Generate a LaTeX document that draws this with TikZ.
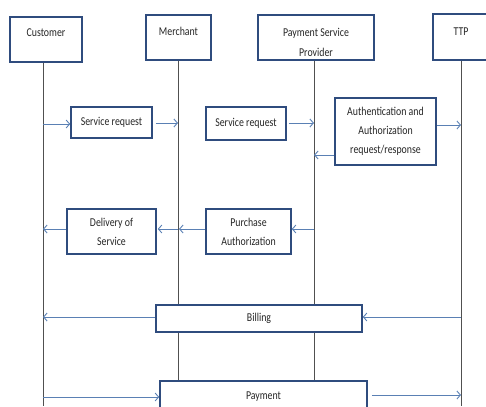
\documentclass[tikz,border=0pt]{standalone}
\usepackage{fontspec}
\setmainfont{Carlito}[FakeStretch=0.82]
\usetikzlibrary{arrows.meta}
\definecolor{boxc}{HTML}{2F4C7E}
\definecolor{arrc}{HTML}{5A80B4}
\definecolor{lifec}{HTML}{505050}
\begin{document}
\begin{tikzpicture}[x=1pt,y=-1pt,
  box/.style={draw=boxc, line width=1.6pt, fill=white, inner sep=0pt,
    font=\fontsize{12}{19}\selectfont, align=center, text=black!85},
  hdrtext/.style={font=\fontsize{12}{20}\selectfont, align=center, inner sep=0pt, text=black!85},
  msg/.style={draw=arrc, line width=0.9pt, -{Straight Barb[length=3.5pt,width=8pt,line width=0.9pt]}},
  life/.style={draw=lifec, line width=0.7pt}]
\useasboundingbox (0,0) rectangle (486,406);
\begin{scope}
\clip (0,0) rectangle (486,406);
% header boxes
\node[box, minimum width=72pt, minimum height=45pt] (cust) at (46,39.5) {};
\node[box, minimum width=65pt, minimum height=45pt] (merch) at (178.5,37.5) {};
\node[box, minimum width=116pt, minimum height=45pt] (psp) at (316,37.5) {};
\node[box, minimum width=56pt, minimum height=46pt] (ttp) at (461,37) {};
\node[hdrtext] (custt) at (46,33) {Customer};
\node[hdrtext] (mercht) at (178.5,31) {Merchant};
\node[hdrtext] (pspt) at (316,42) {Payment Service\\Provider};
\node[hdrtext] (ttpt) at (461,32) {TTP};
% lifeline ends
\coordinate (custL) at (43,406);
\coordinate (merchL) at (178,406);
\coordinate (pspL) at (314,406);
\coordinate (ttpL) at (461,406);
\draw[life] (cust.south -| custL) -- (custL);
\draw[life] (merch.south -| merchL) -- (merchL);
\draw[life] (psp.south -| pspL) -- (pspL);
\draw[life] (ttp.south -| ttpL) -- (ttpL);
% message boxes
\node[box, minimum width=81pt, minimum height=31pt] (sr1) at (111.5,122.5) {Service request};
\node[box, minimum width=80pt, minimum height=33pt] (sr2) at (246,123.5) {Service request};
\node[box, minimum width=101pt, minimum height=67pt] (auth) at (385.5,131.5) {Authentication and\\Authorization\\request/response};
\node[box, minimum width=89pt, minimum height=45pt] (deliv) at (111.5,231.5) {Delivery of\\Service};
\node[box, minimum width=85pt, minimum height=45pt] (purch) at (248.5,231.5) {Purchase\\Authorization};
\node[box, minimum width=206pt, minimum height=27pt] (bill) at (259,318.5) {Billing};
\node[box, minimum width=207pt, minimum height=40pt, text depth=11pt] (pay) at (263.5,401) {Payment};
% messages
\coordinate (c1) at (43,124);
\coordinate (m1) at (178,123);
\coordinate (p1) at (314,123);
\coordinate (t1) at (461,125);
\coordinate (p2) at (314,155);
\coordinate (m3) at (178,229);
\coordinate (c3) at (43,229);
\coordinate (m3b) at (179,229);
\coordinate (p3) at (314,229);
\coordinate (c4) at (43,317);
\coordinate (t4) at (461,317);
\coordinate (c5) at (43,397);
\coordinate (t5) at (461,395);
\draw[msg] (c1) -- (sr1.west |- c1);
\draw[msg] (sr1.east |- m1) ++(3,0) -- (m1);
\draw[msg] (sr2.east |- p1) ++(2,0) -- (p1);
\draw[msg] (auth.east |- t1) -- (t1);
\draw[msg] (auth.west |- p2) -- (p2);
\draw[msg] (m3) -- ([xshift=1pt]deliv.east |- m3);
\draw[msg] (deliv.west |- c3) -- (c3);
\draw[msg] (purch.west |- m3b) -- (m3b);
\draw[msg] (p3) -- (purch.east |- p3);
\draw[msg] (bill.west |- c4) -- (c4);
\draw[msg] (t4) -- (bill.east |- t4);
\draw[msg] (c5) -- (pay.west |- c5);
\draw[msg] ([xshift=4pt]pay.east |- t5) -- (t5);
\end{scope}
\end{tikzpicture}
\end{document}
